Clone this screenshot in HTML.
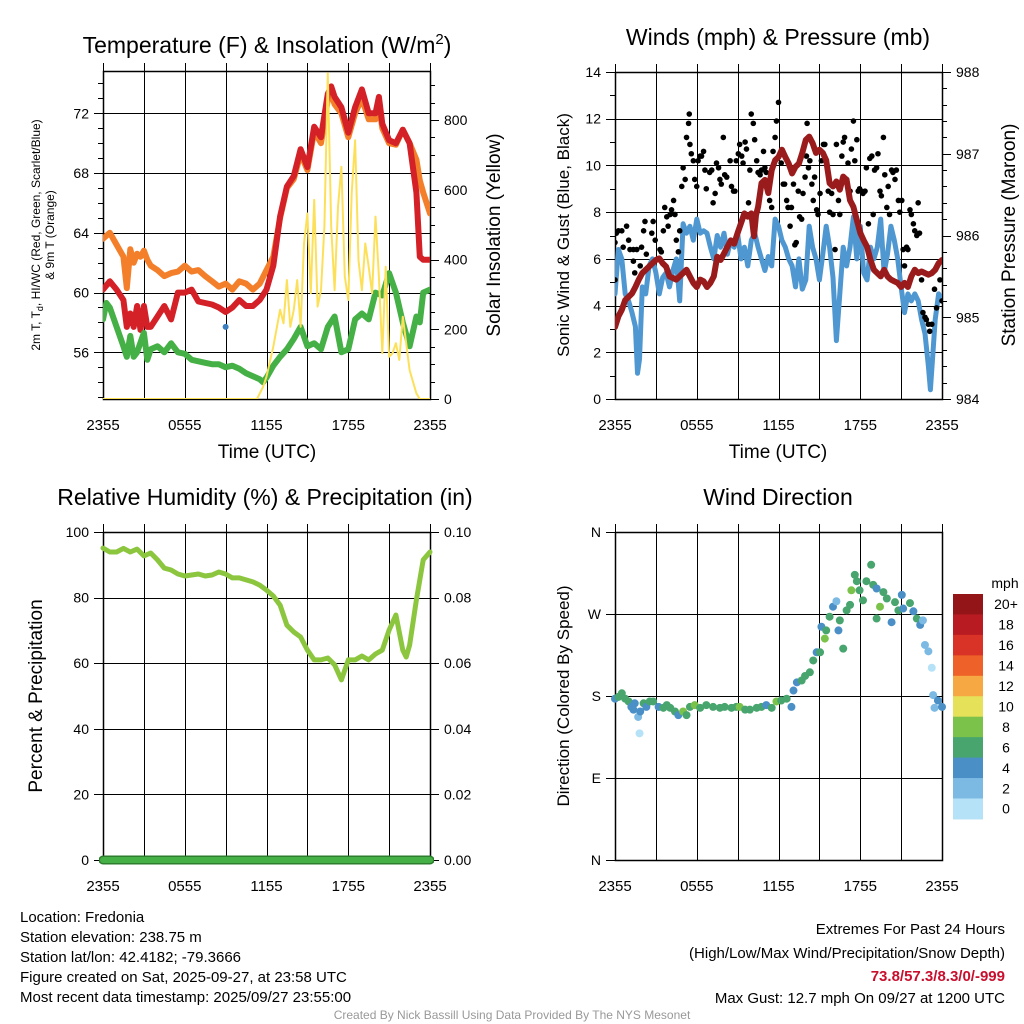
<!DOCTYPE html>
<html><head><meta charset="utf-8"><style>
html,body{margin:0;padding:0;background:#fff}
svg{display:block;font-family:"Liberation Sans",sans-serif}
</style></head><body>
<svg id="chart" width="1024" height="1024" viewBox="0 0 1024 1024" xmlns="http://www.w3.org/2000/svg">
<rect width="1024" height="1024" fill="#fff"/>
<g id="p1"></g>
<g id="p2"></g>
<g id="p3"></g>
<g id="p4"></g>
<g id="txt" font-size="15" fill="#000">
<text x="267" y="53" font-size="23" text-anchor="middle">Temperature (F) &amp; Insolation (W/m<tspan font-size="15" dy="-9">2</tspan><tspan dy="9">)</tspan></text>
<text x="778" y="45" font-size="23" text-anchor="middle">Winds (mph) &amp; Pressure (mb)</text>
<text x="265" y="505" font-size="23" text-anchor="middle">Relative Humidity (%) &amp; Precipitation (in)</text>
<text x="778" y="505" font-size="23" text-anchor="middle">Wind Direction</text>
<text x="267" y="458" font-size="19" text-anchor="middle">Time (UTC)</text>
<text x="778" y="458" font-size="19" text-anchor="middle">Time (UTC)</text>
<text transform="translate(40,235) rotate(-90)" font-size="12" text-anchor="middle">2m T, T<tspan font-size="9" dy="3">d</tspan><tspan dy="-3">, HI/WC (Red, Green, Scarlet/Blue)</tspan></text>
<text transform="translate(54,235) rotate(-90)" font-size="12" text-anchor="middle">&amp; 9m T (Orange)</text>
<text transform="translate(500,235) rotate(-90)" font-size="19" text-anchor="middle">Solar Insolation (Yellow)</text>
<text transform="translate(569,235) rotate(-90)" font-size="17" text-anchor="middle">Sonic Wind &amp; Gust (Blue, Black)</text>
<text transform="translate(1015,235) rotate(-90)" font-size="19" text-anchor="middle">Station Pressure (Maroon)</text>
<text transform="translate(42,696) rotate(-90)" font-size="19" text-anchor="middle">Percent &amp; Precipitation</text>
<text transform="translate(569,696) rotate(-90)" font-size="17" text-anchor="middle">Direction (Colored By Speed)</text>
<g>
<text x="20" y="922">Location: Fredonia</text>
<text x="20" y="942">Station elevation: 238.75 m</text>
<text x="20" y="962">Station lat/lon: 42.4182; -79.3666</text>
<text x="20" y="982">Figure created on Sat, 2025-09-27, at 23:58 UTC</text>
<text x="20" y="1002">Most recent data timestamp: 2025/09/27 23:55:00</text>
</g>
<g text-anchor="end">
<text x="1005" y="934">Extremes For Past 24 Hours</text>
<text x="1005" y="958">(High/Low/Max Wind/Precipitation/Snow Depth)</text>
<text x="1005" y="981" fill="#c8102e" font-weight="bold">73.8/57.3/8.3/0/-999</text>
<text x="1005" y="1003">Max Gust: 12.7 mph On 09/27 at 1200 UTC</text>
</g>
<text x="512" y="1019" font-size="12" fill="#999" text-anchor="middle">Created By Nick Bassill Using Data Provided By The NYS Mesonet</text>
</g>
</svg>
<script>
// ---- Data ----
const tempTimes = [0,0.5,1,1.5,1.75,2,2.25,2.5,2.75,3,3.25,3.5,4,4.5,5,5.5,6,6.5,7,7.5,8,8.5,9,9.5,10,10.5,11,11.5,12,12.5,13,13.5,14,14.5,15,15.5,16,16.5,16.75,17,17.5,18,18.5,19,19.5,20,20.25,20.5,21,21.5,22,22.5,23,23.25,23.5,24];
const temp2m = [60.2,60.75,60.2,59.5,57.7,58.6,57.7,59.1,57.5,59.1,57.7,57.7,58.4,59.1,58.2,60,60,60.2,59.4,59.3,59.2,59,58.7,59,59.5,59.1,59.1,59.5,60.2,61.8,65.1,67.1,67.8,69.6,68.4,71.1,70.4,73.3,73.8,73.1,72.4,70.7,72.4,73.6,72,72,73.1,71.3,70.2,70,70.9,70,66.7,62.4,62.2,62.2];
const temp9m = [63.6,64,63.2,62.4,60.3,62.9,62,62.6,62.4,62.8,62.2,61.8,61.5,61.1,61.3,61.4,61.8,61.4,61.5,61.1,60.75,60.4,60.6,60.2,60.75,60.6,60.2,60.6,61.5,62.4,65,67,67.6,69.3,68.2,70.8,70,72.9,73.3,72.6,72,70.4,72,73,71.6,71.6,72.6,71,70,69.9,70.9,70,68.9,67.5,66.7,65.3];
const dewTimes = [0,0.25,0.5,1,1.5,1.75,2,2.25,2.5,3,3.25,3.5,4,4.5,5,5.5,6,6.5,7,7.5,8,8.5,9,9.5,10,10.5,11,11.5,11.75,12,12.5,13,13.5,14,14.5,15,15.5,16,16.5,17,17.5,18,18.5,19,19.5,20,20.5,21,21.5,22,22.5,23,23.25,23.5,24];
const dewpoint = [58.2,59.3,59,57.7,56.4,55.7,57.1,55.7,56,57.3,55.5,56.2,56.4,56,56.6,56,55.9,55.5,55.4,55.3,55.2,55.2,55,55.1,54.9,54.6,54.4,54.2,54,54.3,55.1,55.7,56.2,56.9,57.7,56.4,56.6,56.2,57.7,58.4,56,56.2,58.2,58.6,58.2,60,59.8,61.3,60,58,56.4,58.4,58,60,60.2];
const heatIndexTimes = [9];
const heatIndex = [57.7];
const solarTimes = [0,11.3,11.75,12,12.5,13,13.25,13.5,13.75,14,14.25,14.5,14.75,15,15.25,15.5,15.75,16,16.25,16.5,16.75,17,17.25,17.5,17.75,18,18.25,18.5,18.75,19,19.25,19.5,19.75,20,20.25,20.5,20.75,21,21.25,21.5,21.75,22,22.25,22.5,23,23.25,24];
const solar = [0,0,35,64,150,256,217,341,207,256,341,207,446,532,303,571,265,312,494,934,494,312,551,666,351,284,590,742,398,312,446,379,303,523,351,131,379,121,131,160,112,236,160,83,16,0,0];

const windTimes = [0,0.25,0.5,0.75,1,1.25,1.5,1.65,1.8,2,2.25,2.5,2.75,3,3.25,3.5,3.75,4,4.25,4.5,4.75,5,5.25,5.5,5.75,6,6.25,6.5,6.75,7,7.25,7.5,7.75,8,8.25,8.5,8.75,9,9.25,9.5,9.75,10,10.25,10.5,10.75,11,11.25,11.5,11.75,12,12.25,12.5,12.75,13,13.25,13.5,13.75,14,14.25,14.5,14.75,15,15.25,15.5,15.75,16,16.25,16.5,16.75,17,17.25,17.5,17.75,18,18.25,18.5,18.75,19,19.25,19.5,19.75,20,20.25,20.5,20.75,21,21.25,21.5,21.75,22,22.25,22.5,22.75,23,23.15,23.3,23.5,23.75,24];
const windSpeed = [4.5,6.4,6.0,4.5,4.2,3.7,3.1,1.1,1.7,4.8,4.5,5.7,6.0,5.4,4.5,5.2,5.4,4.8,5.5,6.0,4.2,7.5,7.1,7.4,6.8,7.7,7.1,7.2,7.1,6.5,6.0,7.0,6.5,7.1,6.2,6.8,6.5,7.1,6.0,6.5,5.7,6.8,7.1,6.5,6.0,5.5,6.1,5.7,7.7,7.4,6.8,6.5,6.0,5.7,4.8,6.0,4.7,5.1,7.4,6.5,6.0,5.1,6.2,7.4,6.5,5.2,2.5,4.5,6.5,5.7,6.5,7.8,6.0,7.4,5.4,5.1,6.5,6.0,6.5,7.7,5.4,6.2,7.4,6.8,6.0,4.8,3.7,4.5,4.2,4.5,4.2,3.4,2.8,1.4,0.4,1.7,3.4,4.5,4.2];
const gustTimes = [0,0,0.1,0.25,0.5,0.6,0.85,1.0,1.1,1.35,1.35,1.45,1.6,1.85,1.95,2.1,2.2,2.3,2.55,2.7,2.8,2.95,3.3,3.4,3.55,3.65,3.8,3.9,4.05,4.15,4.3,4.4,4.5,4.65,4.75,4.9,5.0,5.15,5.25,5.4,5.45,5.5,5.6,5.75,5.85,6.0,6.1,6.25,6.35,6.5,6.6,6.7,6.95,7.1,7.2,7.35,7.45,7.6,7.7,7.8,7.95,8.05,8.2,8.45,8.55,8.7,8.8,8.9,9.05,9.15,9.3,9.4,9.55,9.65,9.8,9.9,10.0,10.15,10.25,10.4,10.5,10.65,10.75,10.9,11.0,11.1,11.25,11.35,11.5,11.6,11.75,11.85,12.0,12.2,12.35,12.45,12.6,12.7,12.85,12.95,13.1,13.2,13.3,13.45,13.55,13.7,13.8,13.95,14.05,14.1,14.2,14.3,14.45,14.55,14.65,14.8,14.9,15.05,15.15,15.3,15.4,15.5,15.65,15.75,15.9,16.0,16.15,16.25,16.4,16.5,16.65,16.75,16.85,17.0,17.1,17.25,17.35,17.5,17.6,17.75,17.85,17.95,18.1,18.2,18.35,18.45,18.6,18.7,18.85,18.95,19.05,19.2,19.3,19.45,19.55,19.7,19.8,19.95,20.05,20.15,20.3,20.4,20.55,20.65,20.8,20.9,21.05,21.15,21.25,21.4,21.5,21.65,21.75,21.9,22.0,22.15,22.25,22.35,22.5,22.6,22.75,22.85,23.0,23.1,23.25,23.45,23.6,23.85,24.0];
const gustSpeed = [5.1,6.7,7.1,7.2,7.2,6.5,7.4,6.8,6.4,6.4,5.9,5.4,6.4,5.7,6.5,7.2,7.6,6.2,5.7,7.1,7.6,6.8,6.4,6.3,7.2,8.2,7.8,7.4,7.9,8.1,8.5,7.9,6.8,6.3,7.2,9.1,9.9,9.4,11.2,11.8,12.2,10.9,10.5,10.2,9.4,9.1,10.2,10.4,10.4,10.6,9.8,9.0,9.7,9.8,8.4,8.8,10.1,9.9,9.4,9.2,11.2,9.6,9.5,10.2,9.1,8.9,8.9,10.2,10.5,10.9,10.4,10.1,11.0,10.7,8.4,9.8,12.2,11.8,11.1,10.2,9.7,9.6,9.8,10.6,9.9,9.7,9.1,8.5,8.2,10.6,11.2,11.9,12.7,10.1,9.2,9.2,8.5,8.2,7.4,8.2,9.2,6.6,6.7,8.9,7.8,7.7,8.8,9.5,10.4,11.8,9.9,10.2,9.2,8.5,9.5,8.1,7.9,8.8,10.2,10.9,10.9,10.2,8.9,8.0,8.8,7.9,6.4,10.9,8.5,7.9,10.4,11.0,11.2,9.4,10.1,8.9,10.7,11.9,10.2,11.1,8.9,9.0,8.9,8.8,8.9,9.9,7.5,10.3,10.4,7.9,9.8,9.9,10.5,8.9,8.7,11.2,9.6,8.2,9.1,7.9,9.8,9.7,9.4,9.8,8.5,8.0,8.5,6.4,5.7,6.5,6.4,8.1,7.9,7.5,7.2,7.0,8.4,7.1,5.1,3.7,3.5,3.4,3.2,2.9,3.2,4.7,3.9,5.1,4.2];
const presTimes = [0,0.25,0.5,0.75,1,1.25,1.5,1.75,2,2.5,3,3.25,3.5,3.75,4,4.5,5,5.25,5.5,5.75,6,6.25,6.5,6.75,7,7.25,7.5,7.75,8,8.25,8.5,8.75,9,9.25,9.5,9.75,10,10.2,10.35,10.5,10.75,11,11.25,11.5,11.75,12,12.25,12.5,12.75,13,13.25,13.5,13.75,14,14.25,14.5,14.75,15,15.25,15.5,15.75,16,16.25,16.5,16.75,17,17.25,17.5,17.75,18,18.25,18.5,18.75,19,19.25,19.5,19.75,20,20.25,20.5,20.75,21,21.25,21.5,21.75,22,22.25,22.5,22.75,23,23.25,23.5,23.75,24];
const pressure = [984.88,985.01,985.09,985.21,985.25,985.29,985.37,985.46,985.54,985.62,985.70,985.72,985.66,985.62,985.50,985.46,985.54,985.58,985.50,985.42,985.37,985.46,985.44,985.37,985.42,985.50,985.74,985.70,985.78,985.86,985.94,985.90,986.03,986.15,986.27,986.23,986.27,985.99,986.25,986.35,986.64,986.68,986.52,986.80,986.92,986.96,987.05,986.96,986.88,986.76,986.84,986.88,987.01,987.17,987.21,987.13,987.01,987.05,987.01,986.92,986.64,986.60,986.66,986.56,986.72,986.68,986.43,986.35,986.19,986.03,985.94,985.86,985.70,985.58,985.54,985.50,985.58,985.50,985.46,985.44,985.42,985.37,985.42,985.37,985.50,985.58,985.54,985.56,985.54,985.52,985.54,985.58,985.66,985.70];

const rhTimes = [0,0.5,1,1.5,2,2.5,3,3.5,4,4.5,5,5.5,6,6.5,7,7.5,8,8.5,9,9.5,10,10.5,11,11.5,12,12.5,13,13.5,14,14.5,15,15.5,16,16.5,17,17.5,18,18.5,19,19.5,20,20.5,21,21.5,22,22.25,22.5,23,23.5,24];
const rh = [95.1,93.9,93.9,95,93.9,94.8,92.7,93.6,91.5,89,88.4,87.2,86.6,86.9,87.2,86.6,86.9,87.8,87.2,86,86,85.4,84.8,83.8,82.3,80.5,77.7,71.6,69.5,68,64,61,61,61.6,59.5,54.9,61,61,62.2,61,62.8,64,70.1,74.7,64,61.9,65.5,79.3,91.5,93.9];
const precipTimes = [0,24];
const precip = [0,0];

const dirTimes = [0,0.25,0.5,0.75,1,1.2,1.35,1.45,1.7,1.8,1.85,2.1,2.3,2.55,2.8,3.2,3.55,3.8,4.05,4.4,4.65,5.0,5.25,5.5,5.85,6.25,6.7,7.2,7.7,8.05,8.55,8.9,9.15,9.55,9.9,10.4,10.75,11.1,11.5,11.85,12.2,12.6,12.95,13.1,13.35,13.7,13.95,14.3,14.55,14.8,15.05,15.15,15.4,15.5,15.75,16.0,16.25,16.4,16.5,16.75,17.0,17.25,17.35,17.6,17.75,17.95,18.2,18.45,18.8,18.95,19.2,19.2,19.45,19.7,19.95,20.3,20.55,20.8,21.05,21.15,21.65,21.9,22.15,22.4,22.6,22.75,23.0,23.25,23.35,23.45,23.7,24.0];
const dirDeg = [177,179,183,177,174,168,165,172,157,139,163,172,168,174,174,168,167,170,167,163,159,163,159,168,170,167,170,168,167,168,167,168,168,165,165,167,168,170,167,174,175,177,168,186,195,197,202,206,219,228,228,256,243,252,267,278,284,252,263,232,274,280,296,313,306,296,285,306,324,302,298,265,278,294,287,261,283,274,291,276,282,273,265,258,263,236,229,211,181,167,175,168];
const dirSpeed = [5,7,7,7,7,5,5,5,3,1,5,7,5,7,7,5,7,7,7,7,5,9,7,7,9,7,7,7,7,7,7,7,9,7,7,7,7,5,7,9,7,7,5,5,5,7,7,7,7,5,7,5,9,7,7,5,3,5,7,7,7,7,9,7,7,7,7,7,7,7,5,7,9,7,7,5,7,7,5,5,7,5,7,5,3,3,3,1,3,3,5,5];
const speedBins = ["0","2","4","6","8","10","12","14","16","18","20+"];
const speedColors = ["#b6e2f8","#7cbae4","#4a8fc6","#48a56e","#7bc24a","#e5e25a","#f6a843","#ee6128","#d93226","#b81c22","#941518"];

const xTickLabels = ["2355","0555","1155","1755","2355"];
const tempTicks = [56,60,64,68,72];
const solarTicks = [0,200,400,600,800];
const windTicks = [0,2,4,6,8,10,12,14];
const presTicks = [984,985,986,987,988];
const rhTicks = [0,20,40,60,80,100];
const precipTicks = ["0.00","0.02","0.04","0.06","0.08","0.10"];
const dirTicks = ["N","E","S","W","N"];

// ---- Helpers ----
const NS = "http://www.w3.org/2000/svg";
function mk(tag, attrs, parent){const e=document.createElementNS(NS,tag);for(const k in attrs)e.setAttribute(k,attrs[k]);parent.appendChild(e);return e;}
function lin(d0,d1,r0,r1){return v=>r0+(v-d0)/(d1-d0)*(r1-r0);}

function frame(g, L, R, T, B, xs, name){
  for(let h=0;h<=24;h+=3){
    const x=Math.round(xs(h))+0.5;
    const l=mk("line",{x1:x,x2:x,y1:T-8,y2:B,stroke:"#000","stroke-width":1},g);
    
    
  }
  xTickLabels.forEach((lab,i)=>{
    const t=mk("text",{x:xs(i*6),y:B+31,"font-size":15,"text-anchor":"middle"},g);
    t.textContent=lab;
    
    
  });
  const r=mk("rect",{x:L+0.5,y:T+0.5,width:R-L,height:B-T,fill:"none",stroke:"#000","stroke-width":1.5},g);
  
  
}
function hgrid(g,L,R,y){
  const yy=Math.round(y)+0.5;
  const l=mk("line",{x1:L-9,x2:R,y1:yy,y2:yy,stroke:"#000","stroke-width":1},g);
  
  
}
function ytick(g,x,y,len,label,anchor,lx){
  mk("line",{x1:x,x2:x+len,y1:Math.round(y)+0.5,y2:Math.round(y)+0.5,stroke:"#000","stroke-width":1},g);
  if(label!==null){
    const t=mk("text",{x:lx,y:y+5,"font-size":14,"text-anchor":anchor},g);
    t.textContent=label;
    
    
  }
}
function path(g,ts,vs,xs,ys,color,w,name){
  let d="";ts.forEach((t,i)=>{d+=(i?"L":"M")+xs(t).toFixed(1)+","+ys(vs[i]).toFixed(1);});
  const p=mk("path",{d:d,fill:"none",stroke:color,"stroke-width":w,"stroke-linejoin":"round","stroke-linecap":"round"},g);
  
  
  return p;
}

// ---- Panel 1 ----
(function(){
  const g=document.getElementById("p1");
  const L=103,R=430,T=71,B=399;
  const xs=lin(0,24,L,R), ys=lin(56,72,352.3,113.3), ss=lin(0,800,399,120);
  frame(g,L,R,T,B,xs,"temperature");
  tempTicks.forEach(v=>{hgrid(g,L,R,ys(v));ytick(g,L-9,ys(v),9,String(v),"end",L-14);});
  for(let v=53;v<=74;v++){if(tempTicks.indexOf(v)<0)ytick(g,L-5,ys(v),5,null);}
  solarTicks.forEach(v=>ytick(g,R,ss(v),9,String(v),"start",R+14));
  for(let v=50;v<=900;v+=50){if(v%200)ytick(g,R,ss(v),5,null);}
  const clip=mk("clipPath",{id:"c1"},g);mk("rect",{x:L,y:T,width:R-L,height:B-T},clip);
  const pg=mk("g",{"clip-path":"url(#c1)"},g);
  path(pg,tempTimes,temp9m,xs,ys,"#f47f2a",6,"temp-9m-line");
  path(pg,tempTimes,temp2m,xs,ys,"#d42027",6,"temp-2m-line");
  path(pg,dewTimes,dewpoint,xs,ys,"#45b045",6,"dewpoint-line");
  path(pg,solarTimes,solar,xs,ss,"#fde05a",2,"solar-line");
  heatIndexTimes.forEach((t,i)=>{
    const c=mk("circle",{cx:xs(t),cy:ys(heatIndex[i]),r:3,fill:"#3b7fc0"},pg);
    
    
  });
})();

// ---- Panel 2 ----
(function(){
  const g=document.getElementById("p2");
  const L=615,R=942,T=72,B=399;
  const xs=lin(0,24,L,R), ys=lin(0,14,B,T), ps=lin(984,988,B,T);
  frame(g,L,R,T,B,xs,"winds");
  windTicks.forEach(v=>{if(v>0&&v<14)hgrid(g,L,R,ys(v));ytick(g,L-9,ys(v),9,String(v),"end",L-14);});
  for(let v=1;v<14;v+=2)ytick(g,L-5,ys(v),5,null);
  presTicks.forEach(v=>ytick(g,R,ps(v),9,String(v),"start",R+14));
  for(let v=984.2;v<988;v+=0.2){if(Math.abs(v-Math.round(v))>0.05)ytick(g,R,ps(v),5,null);}
  const clip=mk("clipPath",{id:"c2"},g);mk("rect",{x:L,y:T,width:R-L,height:B-T},clip);
  const pg=mk("g",{"clip-path":"url(#c2)"},g);
  path(pg,windTimes,windSpeed,xs,ys,"#4f97d1",5,"sonic-wind-line");
  gustTimes.forEach((t,i)=>{
    const c=mk("circle",{cx:xs(t),cy:ys(gustSpeed[i]),r:2.8,fill:"#000"},pg);
    
    
  });
  path(pg,presTimes,pressure,xs,ps,"#9a1b1b",6,"pressure-line");
})();

// ---- Panel 3 ----
(function(){
  const g=document.getElementById("p3");
  const L=103,R=430,T=532,B=860;
  const xs=lin(0,24,L,R), ys=lin(0,100,B,T), qs=lin(0,0.1,B,T);
  frame(g,L,R,T,B,xs,"humidity");
  rhTicks.forEach(v=>{if(v>0&&v<100)hgrid(g,L,R,ys(v));ytick(g,L-9,ys(v),9,String(v),"end",L-14);});
  precipTicks.forEach((lab,i)=>ytick(g,R,qs(i*0.02),9,lab,"start",R+14));
  const clip=mk("clipPath",{id:"c3"},g);mk("rect",{x:L-4,y:T,width:R-L+8,height:B-T+6},clip);
  const pg=mk("g",{"clip-path":"url(#c3)"},g);
  path(pg,rhTimes,rh,xs,ys,"#8cc63f",5,"rh-line");
  path(pg,precipTimes,precip,xs,qs,"#2e7d2e",9,"precip-line-outline");
  path(pg,precipTimes,precip,xs,qs,"#45b045",6,"precip-line");
})();

// ---- Panel 4 ----
(function(){
  const g=document.getElementById("p4");
  const L=615,R=942,T=532,B=860;
  const xs=lin(0,24,L,R), ys=lin(0,360,B,T);
  frame(g,L,R,T,B,xs,"wind-direction");
  dirTicks.forEach((lab,i)=>{const v=i*90;if(v>0&&v<360)hgrid(g,L,R,ys(v));ytick(g,L-9,ys(v),9,lab,"end",L-14);});
  const pg=mk("g",{},g);
  dirTimes.forEach((t,i)=>{
    const bin=Math.min(10,Math.floor(dirSpeed[i]/2));
    const c=mk("circle",{cx:xs(t),cy:ys(dirDeg[i]),r:4,fill:speedColors[bin]},pg);
    
    
  });
  const cb=mk("g",{},g);
  
  
  const t0=mk("text",{x:1005,y:588,"font-size":14,"text-anchor":"middle"},cb);t0.textContent="mph";
  const top=594,h=20.45;
  for(let i=10;i>=0;i--){
    const y=top+(10-i)*h;
    const r=mk("rect",{x:953,y:y,width:30,height:h+0.5,fill:speedColors[i]},cb);
    
    
    const t=mk("text",{x:1006,y:y+h/2+5,"font-size":14,"text-anchor":"middle"},cb);
    t.textContent=speedBins[i];
  }
})();
</script>
</body></html>
